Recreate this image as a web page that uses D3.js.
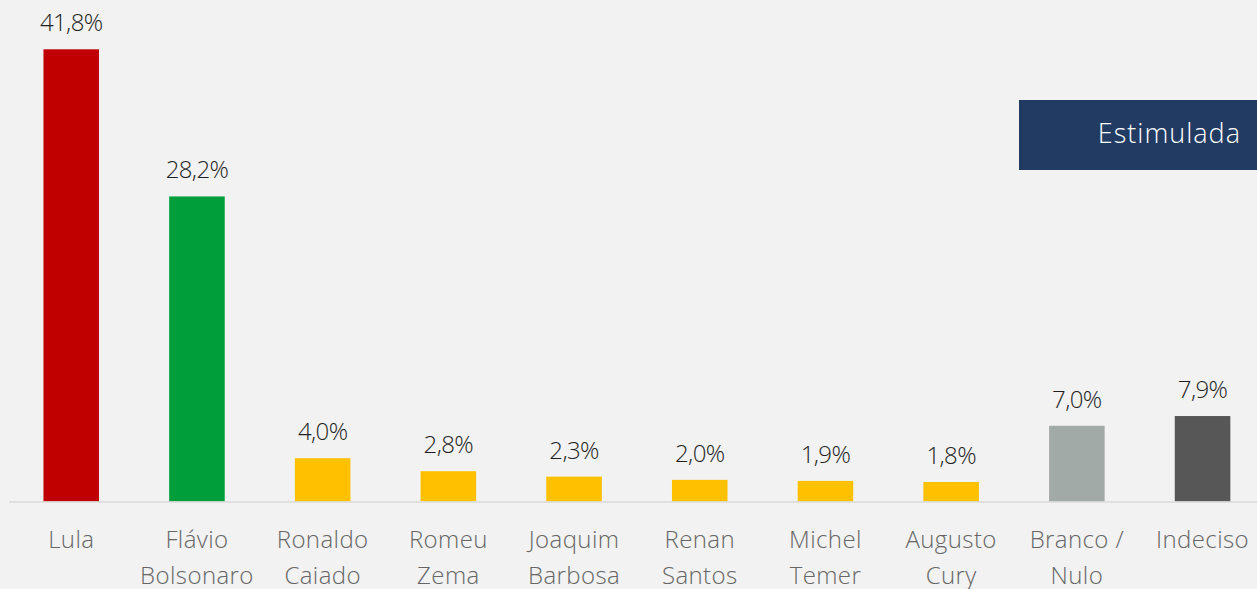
<!DOCTYPE html>
<html>
<head>
<meta charset="utf-8">
<script src="https://cdn.jsdelivr.net/npm/d3@7"></script>
<style>
  html, body { margin: 0; padding: 0; background: #f2f2f2; }
  svg { display: block; font-family: "Open Sans", "Noto Sans", sans-serif; font-weight: 300; }
</style>
</head>
<body>
<svg id="chart" width="1257" height="589"></svg>
<script>
// Chart data
const candidates = ['Lula', 'Flávio Bolsonaro', 'Ronaldo Caiado', 'Romeu Zema', 'Joaquim Barbosa',
    'Renan Santos', 'Michel Temer', 'Augusto Cury', 'Branco / Nulo', 'Indeciso'];
const label_lines = [['Lula'], ['Flávio', 'Bolsonaro'], ['Ronaldo', 'Caiado'], ['Romeu', 'Zema'],
    ['Joaquim', 'Barbosa'], ['Renan', 'Santos'], ['Michel', 'Temer'], ['Augusto', 'Cury'],
    ['Branco /', 'Nulo'], ['Indeciso']];
const percentages = [41.8, 28.2, 4.0, 2.8, 2.3, 2.0, 1.9, 1.8, 7.0, 7.9];
const bar_colors = ['#c00000', '#009e3b', '#ffc000', '#ffc000', '#ffc000',
    '#ffc000', '#ffc000', '#ffc000', '#a2aaa8', '#575757'];
const badge_text = 'Estimulada';

const svg = d3.select('#chart');
const width = 1257;
const baseline = 501.5;

// x: one band per candidate
const xScale = d3.scaleBand()
    .domain(candidates)
    .range([8.4, 1265.4])
    .paddingInner(0.558)
    .paddingOuter(0.279);

// y: percent to pixels
const yScale = d3.scaleLinear()
    .domain([0, 41.8])
    .range([baseline, 49.3]);

const fmt = v => v.toFixed(1).replace('.', ',') + '%';

// bars
svg.append('g').selectAll('rect')
    .data(percentages)
    .join('rect')
    .attr('x', (d, i) => xScale(candidates[i]))
    .attr('y', d => yScale(d))
    .attr('width', xScale.bandwidth())
    .attr('height', d => baseline - yScale(d))
    .attr('fill', (d, i) => bar_colors[i]);

// baseline
svg.append('line')
    .attr('x1', 9).attr('x2', width)
    .attr('y1', baseline + 0.5).attr('y2', baseline + 0.5)
    .attr('stroke', '#d9d9d9')
    .attr('stroke-width', 1.5);

// value labels
svg.append('g').selectAll('text')
    .data(percentages)
    .join('text')
    .attr('x', (d, i) => xScale(candidates[i]) + xScale.bandwidth() / 2)
    .attr('y', d => yScale(d) - 18)
    .attr('text-anchor', 'middle')
    .attr('font-size', 24)
    .attr('letter-spacing', -0.6)
    .attr('fill', '#1f1f1f')
    .text(d => fmt(d));

// category labels
const cats = svg.append('g').selectAll('text')
    .data(candidates)
    .join('text')
    .attr('text-anchor', 'middle')
    .attr('font-size', 24)
    .attr('letter-spacing', 0.4)
    .attr('fill', '#666666');

cats.each(function (d, i) {
    const cx = xScale(d) + xScale.bandwidth() / 2;
    d3.select(this).selectAll('tspan')
        .data(label_lines[i])
        .join('tspan')
        .attr('x', cx)
        .attr('y', (t, j) => 548 + j * 36)
        .text(t => t);
});

// badge
svg.append('rect')
    .attr('x', 1019).attr('y', 100)
    .attr('width', width - 1019).attr('height', 70)
    .attr('fill', '#213b63');

svg.append('text')
    .attr('x', 1241).attr('y', 143)
    .attr('text-anchor', 'end')
    .attr('font-size', 27)
    .attr('letter-spacing', 1)
    .attr('fill', '#ffffff')
    .text(badge_text);
</script>
</body>
</html>
